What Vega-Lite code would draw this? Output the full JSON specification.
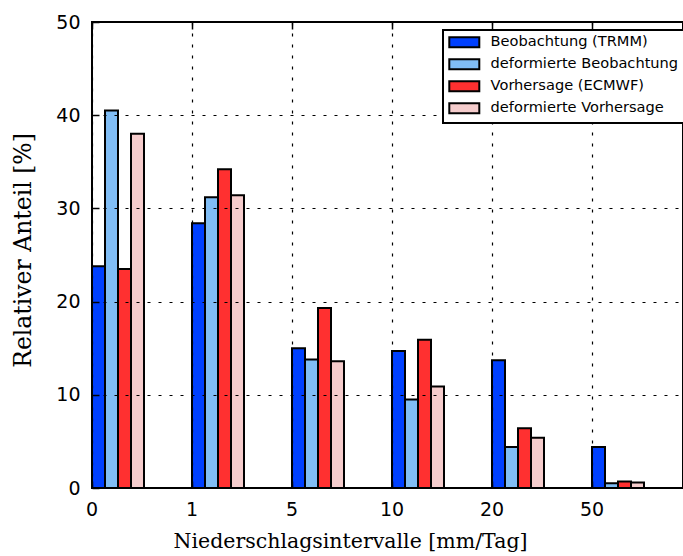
{
  "$schema": "https://vega.github.io/schema/vega-lite/v6.json",
  "width": 591,
  "height": 466,
  "autosize": {"type": "none"},
  "padding": {"left": 92, "top": 22, "right": 0, "bottom": 68},
  "config": {
    "view": {"stroke": "black", "strokeWidth": 2},
    "font": "DejaVu Sans",
    "legend": {"strokeWidth": 2}
  },
  "data": {
    "values": [
      {"intervall": "0", "reihe": "Beobachtung (TRMM)", "anteil": 23.8},
      {"intervall": "0", "reihe": "deformierte Beobachtung", "anteil": 40.5},
      {"intervall": "0", "reihe": "Vorhersage (ECMWF)", "anteil": 23.5},
      {"intervall": "0", "reihe": "deformierte Vorhersage", "anteil": 38.0},
      {"intervall": "1", "reihe": "Beobachtung (TRMM)", "anteil": 28.4},
      {"intervall": "1", "reihe": "deformierte Beobachtung", "anteil": 31.2},
      {"intervall": "1", "reihe": "Vorhersage (ECMWF)", "anteil": 34.2},
      {"intervall": "1", "reihe": "deformierte Vorhersage", "anteil": 31.4},
      {"intervall": "5", "reihe": "Beobachtung (TRMM)", "anteil": 15.0},
      {"intervall": "5", "reihe": "deformierte Beobachtung", "anteil": 13.8},
      {"intervall": "5", "reihe": "Vorhersage (ECMWF)", "anteil": 19.3},
      {"intervall": "5", "reihe": "deformierte Vorhersage", "anteil": 13.6},
      {"intervall": "10", "reihe": "Beobachtung (TRMM)", "anteil": 14.7},
      {"intervall": "10", "reihe": "deformierte Beobachtung", "anteil": 9.5},
      {"intervall": "10", "reihe": "Vorhersage (ECMWF)", "anteil": 15.9},
      {"intervall": "10", "reihe": "deformierte Vorhersage", "anteil": 10.9},
      {"intervall": "20", "reihe": "Beobachtung (TRMM)", "anteil": 13.7},
      {"intervall": "20", "reihe": "deformierte Beobachtung", "anteil": 4.4},
      {"intervall": "20", "reihe": "Vorhersage (ECMWF)", "anteil": 6.4},
      {"intervall": "20", "reihe": "deformierte Vorhersage", "anteil": 5.4},
      {"intervall": "50", "reihe": "Beobachtung (TRMM)", "anteil": 4.4},
      {"intervall": "50", "reihe": "deformierte Beobachtung", "anteil": 0.5},
      {"intervall": "50", "reihe": "Vorhersage (ECMWF)", "anteil": 0.7},
      {"intervall": "50", "reihe": "deformierte Vorhersage", "anteil": 0.6}
    ]
  },
  "layer": [
    {
      "mark": {"type": "bar", "stroke": "black", "strokeWidth": 2},
      "encoding": {
        "x": {
          "field": "intervall",
          "type": "ordinal",
          "sort": ["0", "1", "5", "10", "20", "50"],
          "scale": {"type": "band", "paddingInner": 0.48, "paddingOuter": 0.195, "align": 0},
          "axis": {
            "orient": "bottom",
            "bandPosition": 0,
            "domain": false,
            "grid": true,
            "gridColor": "black",
            "gridDash": [3, 8],
            "gridWidth": 1.2,
            "gridOpacity": 1,
            "ticks": true,
            "tickColor": "black",
            "tickWidth": 1.5,
            "tickSize": -7,
            "labelPadding": 19,
            "labelOffset": -26,
            "labelAngle": 0,
            "labelFont": "DejaVu Sans",
            "labelFontSize": 19,
            "labelColor": "black",
            "title": "Niederschlagsintervalle [mm/Tag]",
            "titleFont": "DejaVu Serif",
            "titleFontSize": 20.5,
            "titleFontWeight": "normal",
            "titleColor": "black",
            "titlePadding": 12,
            "titleX": 258,
            "zindex": 1
          }
        },
        "xOffset": {
          "field": "reihe",
          "type": "nominal",
          "sort": ["Beobachtung (TRMM)", "deformierte Beobachtung", "Vorhersage (ECMWF)", "deformierte Vorhersage"],
          "scale": {"paddingInner": 0, "paddingOuter": 0}
        },
        "y": {
          "field": "anteil",
          "type": "quantitative",
          "scale": {"domain": [0, 50], "nice": false},
          "axis": {
            "values": [0, 10, 20, 30, 40, 50],
            "domain": false,
            "grid": true,
            "gridColor": "black",
            "gridDash": [3, 8],
            "gridWidth": 1.2,
            "gridOpacity": 1,
            "tickColor": "black",
            "tickWidth": 1.5,
            "tickSize": -7,
            "labelPadding": 19,
            "labelFont": "DejaVu Sans",
            "labelFontSize": 19,
            "labelColor": "black",
            "title": "Relativer Anteil [%]",
            "titleFont": "DejaVu Serif",
            "titleFontSize": 23.5,
            "titleFontWeight": "normal",
            "titleColor": "black",
            "titlePadding": 20,
            "titleY": 228,
            "zindex": 1
          }
        },
        "color": {
          "field": "reihe",
          "type": "nominal",
          "scale": {
            "domain": ["Beobachtung (TRMM)", "deformierte Beobachtung", "Vorhersage (ECMWF)", "deformierte Vorhersage"],
            "range": ["#0040ff", "#80bdf5", "#ff3030", "#f5cccc"]
          },
          "legend": {
            "orient": "none",
            "legendX": 351,
            "legendY": 8,
            "zindex": 3,
            "title": null,
            "strokeColor": "black",
            "fillColor": "white",
            "padding": 5,
            "symbolType": "M-2.5,-0.8333H2.5V0.8333H-2.5Z",
            "symbolSize": 144,
            "symbolOffset": 9,
            "symbolStrokeColor": "black",
            "symbolStrokeWidth": 2,
            "symbolOpacity": 1,
            "labelFont": "DejaVu Sans",
            "labelFontSize": 14.6,
            "labelColor": "black",
            "labelOffset": 19,
            "labelLimit": 400,
            "rowPadding": 3
          }
        }
      }
    },
    {
      "mark": {"type": "tick", "opacity": 0},
      "encoding": {
        "x": {
          "field": "intervall",
          "type": "ordinal",
          "sort": ["0", "1", "5", "10", "20", "50"],
          "axis": {
            "orient": "top",
            "bandPosition": 0,
            "domain": false,
            "grid": false,
            "labels": false,
            "title": null,
            "tickColor": "black",
            "tickWidth": 1.5,
            "tickSize": -7,
            "zindex": 1
          }
        },
        "y": {"field": "anteil", "type": "quantitative"}
      }
    }
  ],
  "resolve": {"axis": {"x": "independent"}}
}
